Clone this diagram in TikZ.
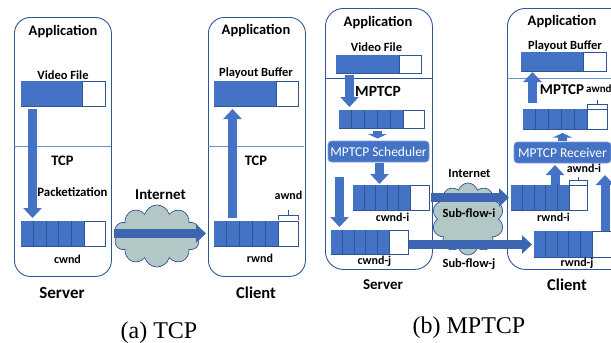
\documentclass[tikz,border=0pt]{standalone}
\usepackage{fontspec}
\setmainfont{Carlito}
\newfontfamily\capfont{Liberation Serif}
\usetikzlibrary{arrows.meta,shapes.symbols}
\definecolor{bfill}{HTML}{4472C4}
\definecolor{bline}{HTML}{2F5597}
\definecolor{cloudc}{HTML}{B4C7C7}
\tikzset{
  hostbox/.style={draw=bline,line width=.9pt,rounded corners=#1,inner sep=0pt},
  divider/.style={draw=bfill!80!white,line width=.8pt},
  barframe/.style={draw=bline,line width=.8pt,fill=white,inner sep=0pt,anchor=north west},
  barfill/.style={fill=bfill,draw=none},
  segline/.style={draw=bline,line width=.8pt},
  blockarrow/.style={draw=bfill,line width=9pt,-{Triangle[width=18pt,length=10pt]},shorten >=0pt},
  smallarrow/.style={draw=bfill,line width=9pt,-{Triangle[width=19pt,length=4.5pt]}},
  flowarrow/.style={draw=bline!40!bfill,line width=8.5pt,-{Triangle[width=18pt,length=10pt]}},
  lbl/.style={font=\bfseries\fontsize{#1}{#1}\selectfont,inner sep=0pt,text=black},
  lbl/.default=12,
  caption/.style={font=\capfont\fontsize{24}{24}\selectfont,inner sep=0pt},
  bracket/.style={draw=bline,line width=.8pt},
  softbox/.style={fill=bfill,draw=bfill!70!white,line width=.6pt,rounded corners=3.5pt,inner sep=0pt,text=white,font=\fontsize{13.5}{13.5}\selectfont},
  cloudnode/.style={cloud,cloud puffs=#1,cloud puff arc=150,aspect=1.3,fill=cloudc,draw=bline,line width=.7pt,inner sep=0pt},
}
% name, x1, y1, x2, y2, blue end, number of segments (1 = solid)
\newcommand{\bufbar}[7]{%
  \pgfmathsetmacro{\bw}{#4-#2}\pgfmathsetmacro{\bh}{#5-#3}%
  \node[barframe,minimum width=\bw pt,minimum height=\bh pt] (#1) at (#2,#3) {};%
  \fill[barfill] (#2,#3) rectangle (#6,#5);%
  \draw[segline] (#6,#3) -- (#6,#5);%
  \ifnum#7>1
    \foreach \k in {1,...,#7}{%
      \pgfmathsetmacro{\sx}{#2+(#6-#2)*\k/#7}%
      \draw[segline] (\sx,#3) -- (\sx,#5);}%
  \fi
}
\begin{document}
\begin{tikzpicture}[x=1pt,y=-1pt]
\useasboundingbox (0,0) rectangle (611,343);
\clip (0,0) rectangle (611,343);

%%%% (a) TCP
\node[hostbox=16pt,draw,minimum width=97pt,minimum height=259pt,anchor=north west] (srvA) at (14,17) {};
\node[hostbox=16pt,draw,minimum width=97pt,minimum height=259pt,anchor=north west] (cliA) at (208,17) {};
\draw[divider] (14,146.5) -- (111,146.5);
\draw[divider] (208,146.5) -- (304,146.5);

\bufbar{videoA}{21}{81}{105}{106}{82}{1}
\bufbar{cwndA}{21}{221}{105}{246}{84}{5}
\bufbar{playA}{214}{81}{298}{106}{276}{1}
\bufbar{rwndA}{214}{221}{298}{246}{278}{5}
\draw[bracket] (278,220) -- (278,215.5) -- (298,215.5) -- (298,220);
\draw[bracket] (288,215.5) -- (288,210);

\coordinate (vA1) at (32.5,109); \coordinate (vA2) at (32.5,218);
\draw[blockarrow] (vA1) -- (vA2);
\coordinate (uA1) at (232.5,218); \coordinate (uA2) at (232.5,109);
\draw[blockarrow] (uA1) -- (uA2);

\node[cloudnode=10,minimum width=86pt,minimum height=62pt] (cloudA) at (157,236) {};
\coordinate (fA1) at (114,233.5); \coordinate (fA2) at (206,233.5);
\draw[flowarrow,line width=9pt] (fA1) -- (fA2);

\node[lbl=14.5] (appA) at (63,31.5) {Application};
\node[lbl=14.5] (appB) at (256,30.5) {Application};
\node[lbl=12.5] (vf) at (63,75) {Video File};
\node[lbl=12.5] (pb) at (256,73) {Playout Buffer};
\node[lbl=14.5] (tcp1) at (62.5,161) {TCP};
\node[lbl=14.5] (tcp2) at (256,161) {TCP};
\node[lbl=12.8] (pk) at (72.5,192) {Packetization};
\node[lbl=15] (inet) at (160.5,194.5) {Internet};
\node[lbl=12] (aw) at (288.5,195) {awnd};
\node[lbl=12] (cw) at (67.5,259) {cwnd};
\node[lbl=12] (rw) at (260,258) {rwnd};
\node[lbl=17] (srvL) at (62,293) {Server};
\node[lbl=16.5] (cliL) at (256,293) {Client};
\node[caption] (capA) at (159,332.5) {(a) TCP};

%%%% (b) MPTCP
\node[hostbox=18pt,draw,minimum width=107pt,minimum height=261pt,anchor=north west] (srvB) at (325,8) {};
\node[hostbox=18pt,draw,minimum width=125pt,minimum height=261pt,anchor=north west] (cliB) at (507,8) {};
\draw[divider,draw=bline] (325,78.5) -- (432,78.5);
\draw[divider] (507,78) -- (611,78);

\node[cloudnode=10,minimum width=72pt,minimum height=72pt] (cloudB) at (468,219) {};

\bufbar{videoB}{336}{55}{421}{73}{399}{1}
\bufbar{mptcpS}{339}{110}{424}{128}{403}{5}
\bufbar{cwndi}{353}{185}{429}{210}{410}{5}
\bufbar{cwndj}{331}{230}{408}{254}{389}{5}
\bufbar{playB}{521}{52}{606}{71}{583}{1}
\bufbar{mptcpR}{523}{109}{607}{129}{587}{5}
\bufbar{rwndi}{511}{185}{587}{210}{569}{5}
\bufbar{rwndj}{534}{231}{611}{257}{592}{5}
\draw[bracket] (587,109) -- (587,104.5) -- (607,104.5) -- (607,109);
\draw[bracket] (597,104.5) -- (597,100);
\draw[bracket] (569,185) -- (569,180.5) -- (587,180.5) -- (587,185);
\draw[bracket] (578,180.5) -- (578,177);

\node[softbox,minimum width=101pt,minimum height=21pt] (sched) at (378.5,151.5) {MPTCP Scheduler};
\node[softbox,minimum width=97pt,minimum height=21pt] (recv) at (562.5,152.5) {MPTCP Receiver};

\coordinate (a1) at (349.5,75); \coordinate (a2) at (349.5,107);
\draw[blockarrow] (a1) -- (a2);
\coordinate (a3) at (377.5,131); \coordinate (a4) at (377.5,138.5);
\draw[smallarrow] (a3) -- (a4);
\coordinate (a5) at (379.5,163); \coordinate (a6) at (379.5,184);
\draw[blockarrow] (a5) -- (a6);
\coordinate (a7) at (339.5,177); \coordinate (a8) at (339.5,227);
\draw[blockarrow] (a7) -- (a8);
\coordinate (b1) at (532.5,103); \coordinate (b2) at (532.5,72);
\draw[blockarrow] (b1) -- (b2);
\coordinate (b3) at (562.5,141); \coordinate (b4) at (562.5,133);
\draw[smallarrow] (b3) -- (b4);
\coordinate (b5) at (555,185); \coordinate (b6) at (555,165);
\draw[blockarrow] (b5) -- (b6);
\coordinate (b7) at (605,231); \coordinate (b8) at (605,175);
\draw[blockarrow] (b7) -- (b8);

\coordinate (f1) at (431,197.5); \coordinate (f2) at (509,197.5);
\draw[flowarrow] (f1) -- (f2);
\coordinate (f3) at (409,244.5); \coordinate (f4) at (532,244.5);
\draw[flowarrow] (f3) -- (f4);

\node[lbl=14.5] (appC) at (378,23) {Application};
\node[lbl=14.5] (appD) at (562,22) {Application};
\node[lbl=12.5] (vfB) at (376.5,47.5) {Video File};
\node[lbl=12.5] (pbB) at (565,46.5) {Playout Buffer};
\node[lbl=15.5] (mpS) at (378,91.5) {MPTCP};
\node[lbl=15] (mpR) at (562,89.5) {MPTCP};
\node[lbl=11,anchor=west] (awB) at (586,89) {awnd};
\node[lbl=12] (awi) at (584,168.5) {awnd-i};
\node[lbl=12.5] (inetB) at (469.5,173) {Internet};
\node[lbl=12.5] (sfi) at (469,213) {Sub-flow-i};
\node[lbl=12.5] (sfj) at (469,264) {Sub-flow-j};
\node[lbl=12] (cwi) at (392.5,217) {cwnd-i};
\node[lbl=12] (cwj) at (374.5,261) {cwnd-j};
\node[lbl=12] (rwi) at (553.5,217) {rwnd-i};
\node[lbl=12] (rwj) at (577,263) {rwnd-j};
\node[lbl=15] (srvM) at (383,284.5) {Server};
\node[lbl=16.5] (cliM) at (567,285) {Client};
\node[caption] (capB) at (469,328) {(b) MPTCP};
\end{tikzpicture}
\end{document}
